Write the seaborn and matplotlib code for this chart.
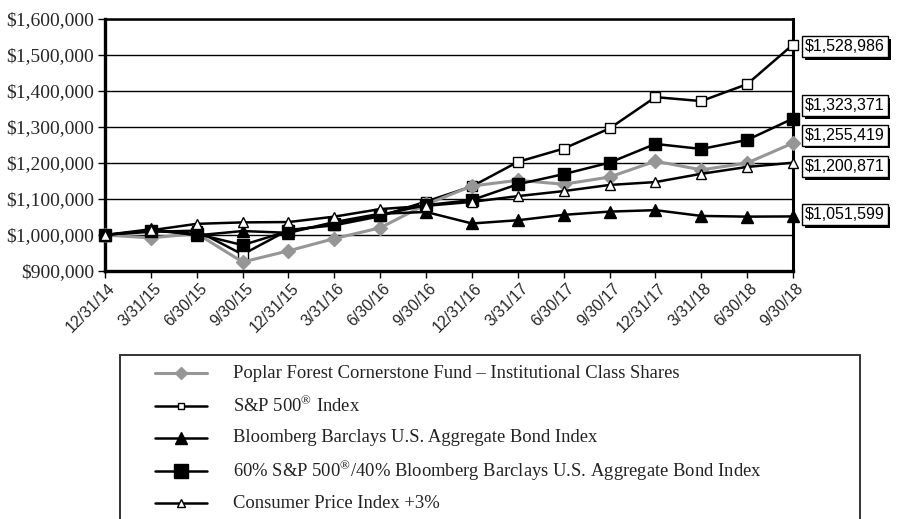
import matplotlib
matplotlib.use("Agg")
import matplotlib.pyplot as plt
from matplotlib import font_manager
from matplotlib.lines import Line2D
from matplotlib.patches import Rectangle
from matplotlib.ticker import FuncFormatter, FixedLocator
import matplotlib.transforms as mtransforms
import matplotlib.patheffects as pe
import seaborn as sns

# Quarter-end dates and growth of a $1,000,000 investment
dates = ['12/31/14', '3/31/15', '6/30/15', '9/30/15', '12/31/15', '3/31/16',
         '6/30/16', '9/30/16', '12/31/16', '3/31/17', '6/30/17', '9/30/17',
         '12/31/17', '3/31/18', '6/30/18', '9/30/18']

fund = [1000000, 992000, 1004000, 925000, 956000, 990000, 1020000, 1085000,
        1136000, 1152000, 1141000, 1161000, 1205000, 1181000, 1200000, 1255419]
sp500 = [1000000, 1009000, 1012000, 946000, 1014000, 1027000, 1052000, 1093000,
         1135000, 1203000, 1240000, 1296000, 1383000, 1372000, 1419000, 1528986]
bond = [1000000, 1016000, 999000, 1011000, 1006000, 1036000, 1059000, 1064000,
        1032000, 1041000, 1056000, 1065000, 1069000, 1053000, 1051000, 1051599]
blend = [1000000, 1012000, 1003000, 972000, 1011000, 1031000, 1056000, 1083000,
         1097000, 1141000, 1169000, 1201000, 1253000, 1239000, 1264000, 1323371]
cpi = [1000000, 1013000, 1031000, 1035000, 1036000, 1051000, 1072000, 1081000,
       1092000, 1108000, 1122000, 1139000, 1147000, 1170000, 1189000, 1200871]

series_names = [
    "Poplar Forest Cornerstone Fund \u2013 Institutional Class Shares",
    "S&P 500$^{\\mathregular{\u00ae}}$ Index",
    "Bloomberg Barclays U.S. Aggregate Bond Index",
    "60% S&P 500$^{\\mathregular{\u00ae}}$/40% Bloomberg Barclays U.S. Aggregate Bond Index",
    "Consumer Price Index +3%",
]

# Ending-value callouts: which series, and the vertical placement (in $) of each box
callout_series = [1, 3, 0, 4, 2]
callout_y = [1524000, 1360000, 1277000, 1190000, 1057000]

GRAY = "#969696"
styles = [
    dict(color=GRAY, marker="D", ms=7, mfc=GRAY, mec=GRAY, lw=2.2),
    dict(color="black", marker="s", ms=7, mfc="white", mec="black", mew=1.0, lw=1.8),
    dict(color="black", marker="^", ms=8.5, mfc="black", mec="black", lw=1.8),
    dict(color="black", marker="s", ms=9, mfc="black", mec="black", lw=1.8),
    dict(color="black", marker="^", ms=7, mfc="white", mec="black", mew=1.0, lw=1.8),
]
legend_ms = [6.5, 5, 8, 9.5, 6]
values = [fund, sp500, bond, blend, cpi]
draw_order = [1, 0, 3, 2, 4]

sns.set_theme(style="white")
available = {f.name for f in font_manager.fontManager.ttflist}
SANS = "Liberation Sans Narrow" if "Liberation Sans Narrow" in available else "Liberation Sans"
SANS_SIZE = 13 if SANS == "Liberation Sans Narrow" else 11.5
SERIF = "Liberation Serif"
plt.rcParams["font.family"] = [SERIF, "DejaVu Serif"]
plt.rcParams["mathtext.fontset"] = "custom"
plt.rcParams["mathtext.rm"] = SERIF

W, H = 897, 519
fig = plt.figure(figsize=(W / 100, H / 100), dpi=100)
ax = fig.add_axes([105 / W, 1 - 271 / H, (793 - 105) / W, (271 - 19) / H])

x = list(range(len(dates)))
for i in draw_order:
    st = styles[i]
    sns.lineplot(x=x, y=values[i], ax=ax, legend=False, clip_on=False,
                 color=st["color"], lw=st["lw"], marker=st["marker"],
                 markersize=st["ms"], markerfacecolor=st["mfc"],
                 markeredgecolor=st["mec"], markeredgewidth=st.get("mew", 1.0),
                 zorder=3 + draw_order.index(i))

ax.set_xlim(0, len(dates) - 1)
ax.set_ylim(900000, 1600000)
ax.yaxis.set_major_locator(FixedLocator(range(900000, 1600001, 100000)))
ax.yaxis.set_major_formatter(FuncFormatter(lambda v, p: "\\$" + f"{v:,.0f}"))
ax.set_xticks(x)
ax.set_xticklabels(dates)
ax.set_xlabel("")
ax.set_ylabel("")

ax.grid(axis="y", color="black", lw=1.0, zorder=1)
ax.grid(axis="x", visible=False)
ax.set_axisbelow(True)
for side, lw in [("left", 2.4), ("bottom", 2.4), ("top", 1.8), ("right", 2.2)]:
    ax.spines[side].set_color("black")
    ax.spines[side].set_linewidth(lw)

ax.tick_params(axis="y", direction="out", length=5, width=1, color="black",
               pad=3, labelsize=14, left=True)
ax.tick_params(axis="x", direction="out", length=5, width=1, color="black",
               pad=6, bottom=True)
for lab in ax.get_yticklabels():
    lab.set_family([SERIF])
offset = mtransforms.ScaledTranslation(8 / 100, 0, fig.dpi_scale_trans)
for lab in ax.get_xticklabels():
    lab.set_family([SANS])
    lab.set_fontsize(SANS_SIZE)
    lab.set_rotation(45)
    lab.set_ha("right")
    lab.set_va("center")
    lab.set_rotation_mode("anchor")
    lab.set_transform(lab.get_transform() + offset)

# Ending-value boxes with drop shadow, to the right of the plot
box_x = 1.0 + 12 / (793 - 105)
trans = mtransforms.blended_transform_factory(ax.transAxes, ax.transData)
for s, yv in zip(callout_series, callout_y):
    label = "\\$" + f"{values[s][-1]:,.0f}"
    t = ax.text(box_x, yv, label, transform=trans, color="black", va="center", ha="left",
                family=[SANS], fontsize=SANS_SIZE, clip_on=False, zorder=9,
                bbox=dict(boxstyle="square,pad=0.18", fc="white", ec="black", lw=1))
    t.get_bbox_patch().set_path_effects([
        pe.SimplePatchShadow(offset=(2, -2), shadow_rgbFace="black", alpha=1.0),
        pe.Normal()])

# Legend panel beneath the chart
fig.patches.append(Rectangle((120 / W, -0.05), (860 - 120) / W, 1 - 355 / H + 0.05,
                             transform=fig.transFigure, fill=False, ec="#333333", lw=1.4))
for i, name in enumerate(series_names):
    ypx = 373 + i * 32.5
    fy = 1 - ypx / H
    st = styles[i]
    fig.add_artist(Line2D([155 / W, 181 / W, 207 / W], [fy, fy, fy], transform=fig.transFigure,
                          color=st["color"], lw=st["lw"], marker=st["marker"], markevery=[1],
                          markersize=legend_ms[i], markerfacecolor=st["mfc"],
                          markeredgecolor=st["mec"], markeredgewidth=st.get("mew", 1.0)))
    fig.text(233 / W, fy, name, va="center", ha="left", fontsize=13.4,
             family=[SERIF, "DejaVu Serif"], color="#222222")

fig.savefig("out.png", dpi=100)
